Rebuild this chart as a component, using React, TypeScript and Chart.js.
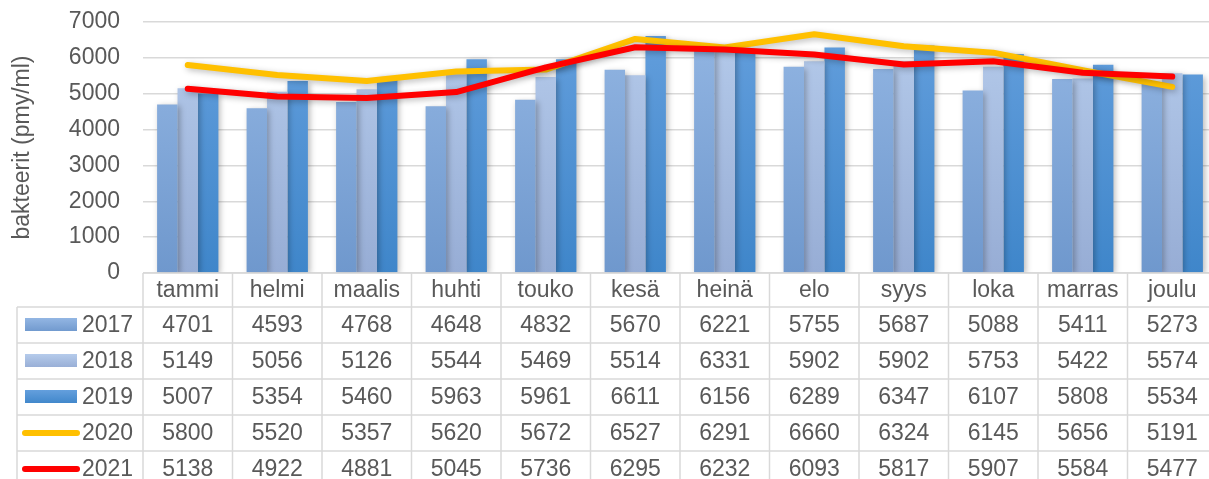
import React, { useEffect, useRef } from "react";
import { Chart, registerables } from "chart.js";

Chart.register(...registerables);

const months = ["tammi", "helmi", "maalis", "huhti", "touko", "kesä", "heinä", "elo", "syys", "loka", "marras", "joulu"];
const seriesNames = ["2017", "2018", "2019", "2020", "2021"];
const v2017 = [4701, 4593, 4768, 4648, 4832, 5670, 6221, 5755, 5687, 5088, 5411, 5273];
const v2018 = [5149, 5056, 5126, 5544, 5469, 5514, 6331, 5902, 5902, 5753, 5422, 5574];
const v2019 = [5007, 5354, 5460, 5963, 5961, 6611, 6156, 6289, 6347, 6107, 5808, 5534];
const v2020 = [5800, 5520, 5357, 5620, 5672, 6527, 6291, 6660, 6324, 6145, 5656, 5191];
const v2021 = [5138, 4922, 4881, 5045, 5736, 6295, 6232, 6093, 5817, 5907, 5584, 5477];
const yMin = 0;
const yMax = 7000;
const yStep = 1000;
const yTitle = "bakteerit (pmy/ml)";

const barColors: [string, string][] = [
  ["#93B6E3", "#6F98CD"],
  ["#B5CBEB", "#97ADD5"],
  ["#649FDD", "#3F86CA"],
];
const lineColors = ["#FFC000", "#FF0000"];
const FONT = "'Liberation Sans', Arial, sans-serif";
const FS = 23;
const TEXT = "#595959";
const GRID = "#D9D9D9";

function barGradient(idx: number) {
  return (c: any) => {
    const chart = c.chart;
    const area = chart.chartArea;
    if (!area) return barColors[idx][0];
    const g = chart.ctx.createLinearGradient(0, area.top, 0, area.bottom);
    g.addColorStop(0, barColors[idx][0]);
    g.addColorStop(1, barColors[idx][1]);
    return g;
  };
}

const shadowPlugin = {
  id: "shadow",
  beforeDatasetDraw(chart: any) {
    const ctx = chart.ctx;
    ctx.save();
    ctx.shadowColor = "rgba(0,0,0,0.28)";
    ctx.shadowBlur = 6;
    ctx.shadowOffsetX = 2;
    ctx.shadowOffsetY = 2;
  },
  afterDatasetDraw(chart: any) {
    chart.ctx.restore();
  },
};

const tablePlugin = {
  id: "dataTable",
  afterDraw(chart: any) {
    const { ctx, chartArea } = chart;
    const n = months.length;
    const colW = (chartArea.right - chartArea.left) / n;
    const top = chartArea.bottom;
    const headerH = 34;
    const rowH = 36;
    const tableLeft = 17;
    const rows = [v2017, v2018, v2019, v2020, v2021];
    const bottom = top + headerH + rowH * rows.length;
    ctx.save();
    ctx.strokeStyle = GRID;
    ctx.lineWidth = 1.5;
    ctx.beginPath();
    ctx.moveTo(chartArea.left, top);
    ctx.lineTo(chartArea.right, top);
    for (let r = 0; r <= rows.length; r++) {
      const y = top + headerH + r * rowH;
      ctx.moveTo(tableLeft, y);
      ctx.lineTo(chartArea.right, y);
    }
    for (let i = 0; i <= n; i++) {
      const x = chartArea.left + i * colW;
      ctx.moveTo(x, top);
      ctx.lineTo(x, bottom);
    }
    ctx.moveTo(tableLeft, top + headerH);
    ctx.lineTo(tableLeft, bottom);
    ctx.stroke();

    ctx.fillStyle = TEXT;
    ctx.font = `${FS}px ${FONT}`;
    ctx.textAlign = "center";
    ctx.textBaseline = "middle";
    for (let i = 0; i < n; i++) {
      const cx = chartArea.left + (i + 0.5) * colW;
      ctx.fillText(months[i], cx, top + headerH / 2 + 1);
      for (let r = 0; r < rows.length; r++) {
        ctx.fillText(String(rows[r][i]), cx, top + headerH + r * rowH + rowH / 2 + 1);
      }
    }
    for (let r = 0; r < rows.length; r++) {
      const cy = top + headerH + r * rowH + rowH / 2;
      if (r < 3) {
        const g = ctx.createLinearGradient(0, cy - 7, 0, cy + 7);
        g.addColorStop(0, barColors[r][0]);
        g.addColorStop(1, barColors[r][1]);
        ctx.fillStyle = g;
        ctx.fillRect(25, cy - 7, 52, 13);
      } else {
        ctx.strokeStyle = lineColors[r - 3];
        ctx.lineWidth = 6;
        ctx.lineCap = "round";
        ctx.beginPath();
        ctx.moveTo(25, cy);
        ctx.lineTo(77, cy);
        ctx.stroke();
      }
      ctx.fillStyle = TEXT;
      ctx.textAlign = "left";
      ctx.fillText(seriesNames[r], 82, cy + 1);
    }
    ctx.restore();
  },
};

export default function App() {
  const ref = useRef<HTMLCanvasElement | null>(null);
  useEffect(() => {
    if (!ref.current) return;
    const barSets = [v2017, v2018, v2019].map((d, i) => ({
      type: "bar" as const,
      label: seriesNames[i],
      data: d,
      backgroundColor: barGradient(i),
      borderWidth: 0,
      categoryPercentage: 0.685,
      barPercentage: 1.0,
      order: 3,
    }));
    const lineSets = [v2020, v2021].map((d, i) => ({
      type: "line" as const,
      label: seriesNames[3 + i],
      data: d,
      borderColor: lineColors[i],
      backgroundColor: lineColors[i],
      borderWidth: 6,
      pointRadius: 0,
      tension: 0,
      borderCapStyle: "round" as const,
      borderJoinStyle: "round" as const,
      order: 2 - i,
    }));
    const chart = new Chart(ref.current, {
      type: "bar",
      data: { labels: months, datasets: [...barSets, ...lineSets] as any },
      options: {
        animation: false,
        responsive: false,
        maintainAspectRatio: false,
        layout: { padding: { left: 0, right: 8, top: 22, bottom: 206 } },
        plugins: { legend: { display: false }, tooltip: { enabled: false } },
        scales: {
          x: { display: false, offset: true, grid: { display: false } },
          y: {
            min: yMin,
            max: yMax,
            border: { display: false },
            grid: { color: GRID, lineWidth: 1.5, drawTicks: false },
            ticks: {
              stepSize: yStep,
              padding: 23,
              color: TEXT,
              font: { family: FONT, size: FS },
              callback: (v: any) => String(v),
            },
            title: {
              display: true,
              text: yTitle,
              color: TEXT,
              font: { family: FONT, size: FS },
              padding: { top: 9, bottom: 0 },
            },
            afterFit: (s: any) => {
              s.width = 143;
              s.paddingTop = 0;
              s.paddingBottom = 0;
            },
          },
        },
      },
      plugins: [shadowPlugin, tablePlugin],
    });
    return () => chart.destroy();
  }, []);
  return (
    <div style={{ position: "fixed", left: 0, top: 0, width: 1209, height: 479, overflow: "hidden", background: "#fff" }}>
      <canvas ref={ref} width={1225} height={479} style={{ display: "block", width: 1225, height: 479 }} />
    </div>
  );
}
